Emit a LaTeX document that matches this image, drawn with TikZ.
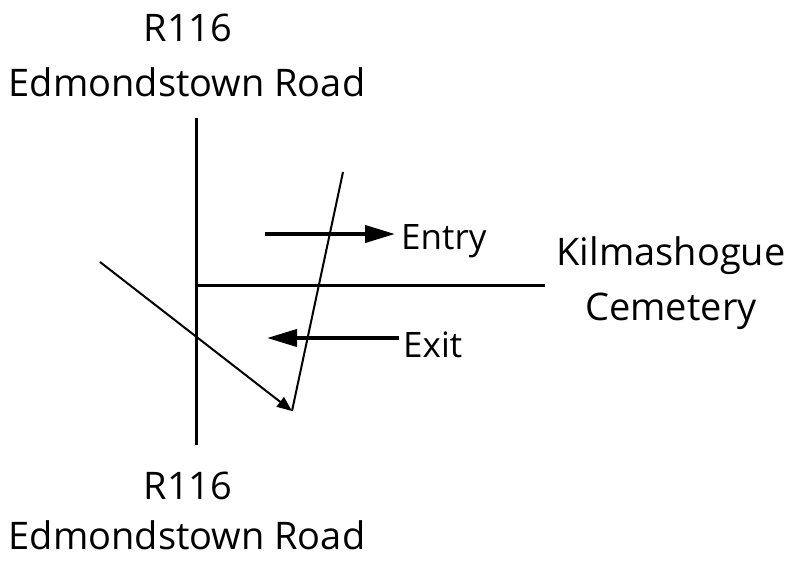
\documentclass[tikz,border=0pt]{standalone}
\usepackage{fontspec}
\setmainfont{Open Sans}
\usetikzlibrary{arrows.meta}
\begin{document}
\begin{tikzpicture}[x=1pt,y=-1pt,
  label/.style={inner sep=0pt,anchor=base,font=\fontsize{38}{46}\selectfont},
  small/.style={inner sep=0pt,anchor=base west,font=\fontsize{35}{42}\selectfont},
  road/.style={line width=3pt},
  track/.style={line width=2pt},
  flow/.style={line width=4pt,-{Triangle[length=30pt,width=17pt]}}]
\useasboundingbox (0,0) rectangle (791,561);

% road labels
\node[label] (topnum)  at (188,42)  {R116};
\node[label] (topname) at (187,97)  {Edmondstown Road};
\node[label] (botnum)  at (188,499) {R116};
\node[label] (botname) at (187,549) {Edmondstown Road};
\node[label] (cem1)    at (671,265) {Kilmashogue};
\node[label] (cem2)    at (671,320) {Cemetery};

% main road and cemetery access road
\coordinate (rtop) at (196,118);
\coordinate (rbot) at (196,445);
\coordinate (junc) at (196,285);
\coordinate (cend) at (545,285);
\draw[road] (rtop) -- (rbot);
\draw[road] (junc) -- (cend);

% turning track
\coordinate (tstart) at (100,262);
\coordinate (tcorner) at (292,411);
\coordinate (tend) at (343,172);
\draw[track,-{Triangle[length=15pt,width=12pt]}] (tstart) -- (tcorner);
\draw[track] (tcorner) -- (tend);

% entry and exit arrows
\node[small] (entry) at (401,249) {Entry};
\node[small] (exit)  at (403,357) {Exit};
\coordinate (ein) at (265,234);
\coordinate (eout) at (395,234);
\coordinate (xin) at (399,338);
\coordinate (xout) at (267,338);
\draw[flow] (ein) -- (eout);
\draw[flow] (xin) -- (xout);
\end{tikzpicture}
\end{document}
